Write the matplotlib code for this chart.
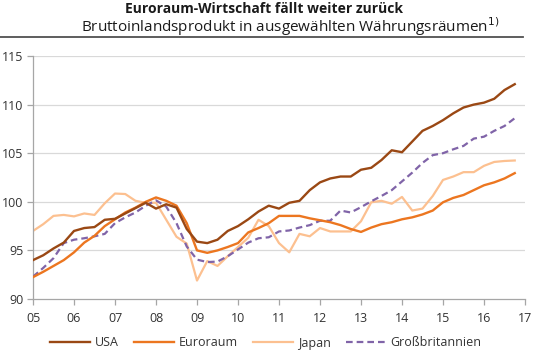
import matplotlib
matplotlib.use("Agg")
import matplotlib.pyplot as plt
import numpy as np

plt.rcParams['font.family'] = ['Open Sans', 'DejaVu Sans']

start_year = 2005
usa = [94.0, 94.5, 95.2, 95.8,
       97.0, 97.3, 97.4, 98.15,
       98.25, 98.8, 99.35, 99.9,
       99.3, 99.75, 99.4, 97.2,
       95.9, 95.75, 96.1, 97.0,
       97.5, 98.2, 99.0, 99.6,
       99.3, 99.9, 100.1, 101.2,
       102.0, 102.4, 102.6, 102.6,
       103.3, 103.5, 104.3, 105.3,
       105.1, 106.2, 107.3, 107.8,
       108.4, 109.1, 109.7, 110.0,
       110.2, 110.6, 111.5, 112.1]
euroraum = [92.25, 92.8, 93.4, 94.0,
            94.8, 95.8, 96.5, 97.5,
            98.2, 98.9, 99.4, 100.0,
            100.45, 100.1, 99.6, 97.8,
            95.0, 94.75, 95.0, 95.35,
            95.75, 96.85, 97.3, 97.8,
            98.55, 98.55, 98.55, 98.3,
            98.1, 97.9, 97.6, 97.2,
            96.9, 97.35, 97.7, 97.9,
            98.2, 98.4, 98.7, 99.1,
            99.95, 100.4, 100.7, 101.2,
            101.7, 102.0, 102.4, 102.95]
japan = [97.0, 97.7, 98.55, 98.65,
         98.5, 98.8, 98.65, 99.85,
         100.85, 100.8, 100.1, 99.9,
         99.9, 98.15, 96.4, 95.7,
         91.9, 93.9, 93.4, 94.4,
         95.35, 96.3, 98.15, 97.5,
         95.75, 94.8, 96.7, 96.45,
         97.3, 96.95, 96.95, 96.95,
         98.0, 99.95, 100.1, 99.8,
         100.5, 99.1, 99.3, 100.6,
         102.25, 102.6, 103.05, 103.05,
         103.7, 104.1, 104.2, 104.25]
gb = [92.3, 93.2, 94.2, 95.75,
      96.1, 96.25, 96.45, 96.7,
      97.8, 98.4, 98.9, 99.6,
      100.15, 99.5, 97.8, 95.4,
      94.05, 93.8, 93.85, 94.4,
      95.1, 95.8, 96.25, 96.35,
      96.95, 97.05, 97.35, 97.6,
      98.05, 98.05, 99.1, 98.9,
      99.45, 100.05, 100.6, 101.2,
      102.1, 103.0, 104.0, 104.8,
      105.0, 105.4, 105.75, 106.5,
      106.7, 107.3, 107.8, 108.6]
x_ticks = list(range(2005, 2018))
x_labels = ['05', '06', '07', '08', '09', '10', '11', '12', '13', '14', '15', '16', '17']
y_ticks = [90, 95, 100, 105, 110, 115]

t = start_year + np.arange(len(usa)) / 4.0

fig = plt.figure(figsize=(5.33, 3.52), dpi=100)
ax = fig.add_axes([33/533, 1-299/352, (525-33)/533, (299-56)/352])

ax.plot(t, gb, color='#8064a8', lw=1.6, ls=(0, (3, 1.8)), label='Großbritannien', zorder=3)
ax.plot(t, japan, color='#fcc090', lw=1.6, label='Japan', zorder=2)
ax.plot(t, euroraum, color='#ec7620', lw=1.7, label='Euroraum', zorder=4)
ax.plot(t, usa, color='#9a4814', lw=1.7, label='USA', zorder=5)

ax.set_xlim(2005, 2017)
ax.set_ylim(90, 115)
ax.set_xticks(x_ticks)
ax.set_xticklabels(x_labels)
ax.set_yticks(y_ticks)
for y in y_ticks[1:]:
    ax.axhline(y, color='#d9d9d9', lw=0.9, zorder=0)

for s in ['top', 'right']:
    ax.spines[s].set_visible(False)
for s in ['left', 'bottom']:
    ax.spines[s].set_color('#a6a6a6')
    ax.spines[s].set_linewidth(0.9)
ax.tick_params(axis='both', colors='#a6a6a6', labelcolor='#333333', labelsize=9,
               length=4, width=0.9, direction='out')
ax.tick_params(axis='x', pad=5)
ax.tick_params(axis='y', pad=3)

# top rule
fig.add_artist(plt.Line2D([0, 523/533], [1-37/352, 1-37/352], color='#505050', lw=1.3,
                          transform=fig.transFigure))

fig.text(264/533, 1-9/352, 'Euroraum-Wirtschaft fällt weiter zurück', ha='center', va='center',
         fontsize=10, fontweight='bold', color='#1a1a1a')
fig.text(290/533, 1-27/352, 'Bruttoinlandsprodukt in ausgewählten Währungsräumen$^{1)}$',
         ha='center', va='center', fontsize=11.0, color='#1a1a1a')

handles, labels = ax.get_legend_handles_labels()
order = [3, 2, 1, 0]
leg = fig.legend([handles[i] for i in order], [labels[i] for i in order],
                 loc='center', bbox_to_anchor=(266/533, 1-343/352), ncol=4, frameon=False,
                 fontsize=9, handlelength=3.2, handletextpad=0.35, columnspacing=1.25,
                 labelcolor='#333333', borderaxespad=0, borderpad=0)

fig.savefig('out.png', dpi=100)
